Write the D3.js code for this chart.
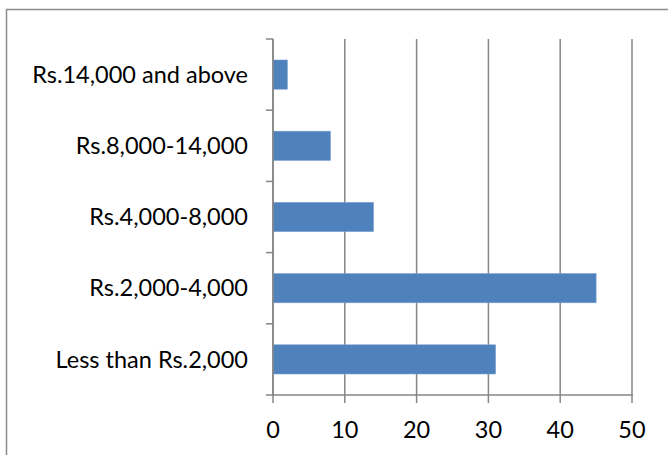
<!DOCTYPE html>
<html>
<head>
<meta charset="utf-8">
<script src="https://cdn.jsdelivr.net/npm/d3@7"></script>
<style>
  body { margin: 0; background: #fff; }
  .axisText { font-family: Lato, "Open Sans", sans-serif; font-size: 23.5px; fill: #000; }
</style>
</head>
<body>
<div id="chart"></div>
<script>
// chart values
var categories = ["Less than Rs.2,000", "Rs.2,000-4,000", "Rs.4,000-8,000", "Rs.8,000-14,000", "Rs.14,000 and above"];
var values = [31, 45, 14, 8, 2];
var xTicks = [0, 10, 20, 30, 40, 50];

var svgWidth = 668;
var svgHeight = 455;

var margin = { top: 39, right: 36, bottom: 60, left: 273 };
var width = 632 - margin.left;
var height = 395 - margin.top;

var svg = d3.select("#chart")
  .append("svg")
  .attr("width", svgWidth)
  .attr("height", svgHeight);

// outer chart border (runs off the right and bottom edge)
svg.append("rect")
  .attr("x", 6.5)
  .attr("y", 9.5)
  .attr("width", 700)
  .attr("height", 500)
  .attr("fill", "none")
  .attr("stroke", "#8c8c8c")
  .attr("stroke-width", 1.5);

var chartGroup = svg.append("g")
  .attr("transform", `translate(${margin.left}, ${margin.top})`);

var xScale = d3.scaleLinear()
  .domain([0, 50])
  .range([0, width]);

// first category sits at the bottom
var yScale = d3.scaleBand()
  .domain(categories.slice().reverse())
  .range([0, height])
  .paddingInner(0.59)
  .paddingOuter(0.295);

var yBand = d3.scaleBand()
  .domain(categories.slice().reverse())
  .range([0, height]);

// vertical gridlines
chartGroup.selectAll(".grid")
  .data(xTicks)
  .enter()
  .append("line")
  .attr("x1", d => xScale(d))
  .attr("x2", d => xScale(d))
  .attr("y1", 0)
  .attr("y2", height + 8)
  .attr("stroke", "#868686")
  .attr("stroke-width", 1.5);

// bars
chartGroup.selectAll("rect.bar")
  .data(values)
  .enter()
  .append("rect")
  .attr("class", "bar")
  .attr("x", xScale(0))
  .attr("y", (d, i) => yScale(categories[i]))
  .attr("width", d => xScale(d) - xScale(0))
  .attr("height", yScale.bandwidth())
  .attr("fill", "#4f81bd")
  .attr("stroke", "#7a9fd0")
  .attr("stroke-width", 0.6);

// x axis line
chartGroup.append("line")
  .attr("x1", -1)
  .attr("x2", width + 1)
  .attr("y1", height)
  .attr("y2", height)
  .attr("stroke", "#868686")
  .attr("stroke-width", 1.5);

// y axis line and category tick marks
chartGroup.append("line")
  .attr("x1", 0)
  .attr("x2", 0)
  .attr("y1", 0)
  .attr("y2", height)
  .attr("stroke", "#868686")
  .attr("stroke-width", 1.5);

var bounds = categories.map(c => yBand(c)).concat([height]);
chartGroup.selectAll(".ytick")
  .data(bounds)
  .enter()
  .append("line")
  .attr("x1", -7)
  .attr("x2", 0)
  .attr("y1", d => d)
  .attr("y2", d => d)
  .attr("stroke", "#868686")
  .attr("stroke-width", 1.5);

// category labels
chartGroup.selectAll(".ylabel")
  .data(categories)
  .enter()
  .append("text")
  .attr("class", "axisText")
  .attr("x", -25)
  .attr("y", d => yBand(d) + yBand.bandwidth() / 2)
  .attr("dy", "0.35em")
  .attr("text-anchor", "end")
  .text(d => d);

// x tick labels
chartGroup.selectAll(".xlabel")
  .data(xTicks)
  .enter()
  .append("text")
  .attr("class", "axisText")
  .attr("x", d => xScale(d))
  .attr("y", height + 35)
  .attr("dy", "0.35em")
  .attr("text-anchor", "middle")
  .text(d => d);
</script>
</body>
</html>
